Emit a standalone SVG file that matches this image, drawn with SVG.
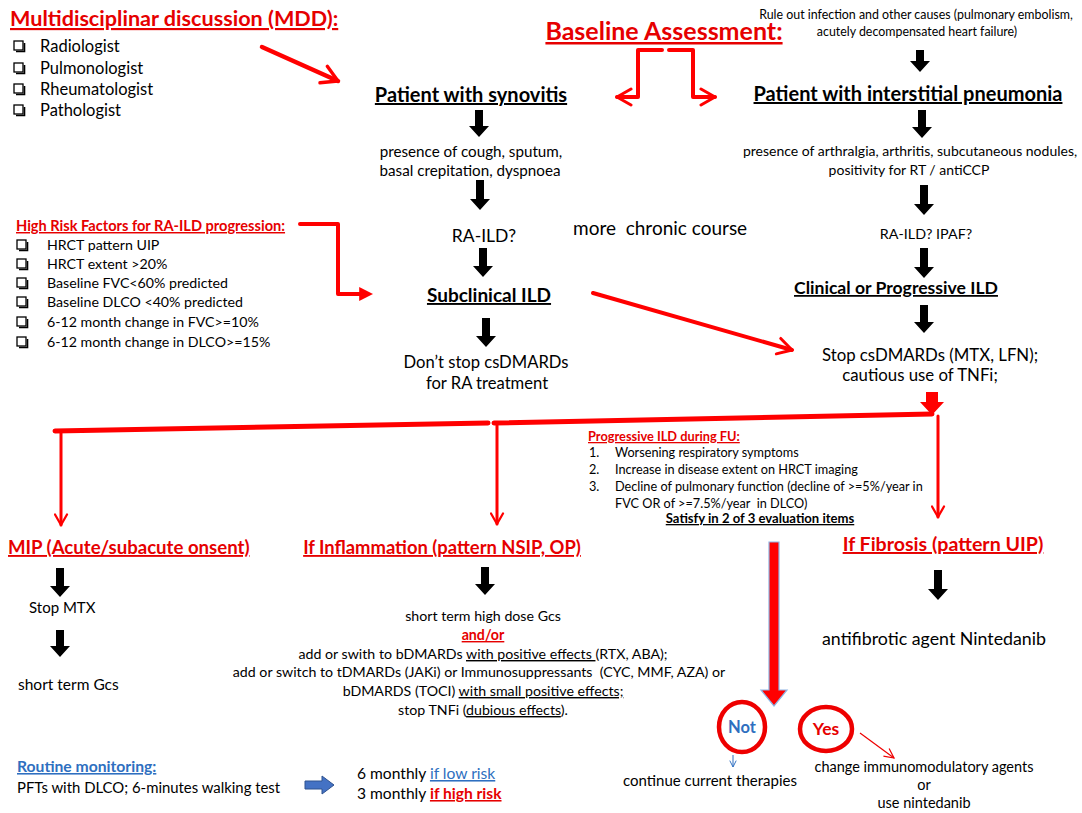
<svg xmlns="http://www.w3.org/2000/svg" width="1082" height="813" viewBox="0 0 1082 813">
<style>
text{font-family:Lato,"Liberation Sans",sans-serif;fill:#000}
.b{font-weight:bold}
.r{fill:#e60000}
.bl{fill:#2e6fc0}
.u{text-decoration:underline}
.c{text-anchor:middle}
.blk{fill:#000}
.ra{stroke:#f00;fill:none;stroke-linecap:round;stroke-linejoin:round}
.cb{fill:none;stroke:#000;stroke-width:1.3}
</style>
<defs>
<marker id="vh" viewBox="0 0 10 10" refX="8.5" refY="5" markerWidth="5" markerHeight="5" markerUnits="strokeWidth" orient="auto">
<path d="M1.5,1 L8.5,5 L1.5,9" fill="none" stroke="#f00" stroke-width="1.5" stroke-linecap="round" stroke-linejoin="round"/>
</marker>
<marker id="vhs" viewBox="0 0 10 10" refX="9" refY="5" markerWidth="10" markerHeight="10" markerUnits="strokeWidth" orient="auto">
<path d="M1,1 L9,5 L1,9" fill="none" stroke="#e00" stroke-width="1"/>
</marker>
<marker id="vhb" viewBox="0 0 10 10" refX="9" refY="5" markerWidth="8" markerHeight="8" markerUnits="strokeWidth" orient="auto">
<path d="M1,1 L9,5 L1,9" fill="none" stroke="#2e6fc0" stroke-width="1.2"/>
</marker>
<marker id="fh" viewBox="0 0 10 10" refX="2" refY="5" markerWidth="3.5" markerHeight="3.5" markerUnits="strokeWidth" orient="auto">
<path d="M0,0 L10,5 L0,10 Z" fill="#f00"/>
</marker>
<g id="box"><rect x="0" y="0" width="9" height="9" class="cb"/><path d="M2,10.5 H10.5 V2" fill="none" stroke="#000" stroke-width="1.6"/></g>
</defs>
<rect width="1082" height="813" fill="#fff"/>

<g id="mdd">
<text x="10" y="26" class="b r u" font-size="21.6">Multidisciplinar discussion (MDD):</text>
<use href="#box" x="14" y="41"/><text x="40" y="52" font-size="16.5">Radiologist</text>
<use href="#box" x="14" y="63"/><text x="40" y="74" font-size="16.5">Pulmonologist</text>
<use href="#box" x="14" y="84"/><text x="40" y="95" font-size="16.5">Rheumatologist</text>
<use href="#box" x="14" y="105"/><text x="40" y="116" font-size="16.5">Pathologist</text>
</g>

<g id="baseline">
<text x="664" y="40" class="b r u c" font-size="25">Baseline Assessment:</text>
</g>

<g id="ruleout">
<text x="916" y="19" class="c" font-size="12.4">Rule out infection and other causes (pulmonary embolism,</text>
<text x="917" y="36" class="c" font-size="12.4">acutely decompensated heart failure)</text>
</g>

<g id="synovitis">
<text x="471" y="102" class="b u c" font-size="20">Patient with synovitis</text>
</g>
<g id="cough">
<text x="471" y="157" class="c" font-size="15.2">presence of cough, sputum,</text>
<text x="470" y="176" class="c" font-size="15.2">basal crepitation, dyspnoea</text>
</g>
<g id="raild"><text x="484" y="242" class="c" font-size="17.5">RA-ILD?</text></g>
<g id="subclinical"><text x="489" y="302" class="b u c" font-size="19">Subclinical ILD</text></g>
<g id="dontstop">
<text x="486" y="368" class="c" font-size="16.6">Don’t stop csDMARDs</text>
<text x="487" y="389" class="c" font-size="16.6">for RA treatment</text>
</g>
<g id="chronic"><text x="573" y="235" font-size="19" xml:space="preserve">more  chronic course</text></g>

<g id="interstitial"><text x="908" y="101" class="b u c" font-size="20">Patient with interstitial pneumonia</text></g>
<g id="arthralgia">
<text x="910" y="156" class="c" font-size="14">presence of arthralgia, arthritis, subcutaneous nodules,</text>
<text x="909" y="175" class="c" font-size="14">positivity for RT / antiCCP</text>
</g>
<g id="ipaf"><text x="926" y="239" class="c" font-size="14.3">RA-ILD? IPAF?</text></g>
<g id="clinical"><text x="896" y="294" class="b u c" font-size="17.6">Clinical or Progressive ILD</text></g>
<g id="stopcs">
<text x="930" y="361" class="c" font-size="16.8">Stop csDMARDs (MTX, LFN);</text>
<text x="920" y="381" class="c" font-size="16.8">cautious use of TNFi;</text>
</g>

<g id="risk">
<text x="16" y="231" class="b r u" font-size="14.6">High Risk Factors for RA-ILD progression:</text>
<use href="#box" x="17" y="240"/><text x="47" y="250" font-size="14.2">HRCT pattern UIP</text>
<use href="#box" x="17" y="259"/><text x="47" y="269" font-size="14.2">HRCT extent &gt;20%</text>
<use href="#box" x="17" y="278"/><text x="47" y="288" font-size="14.2">Baseline FVC&lt;60% predicted</text>
<use href="#box" x="17" y="297"/><text x="47" y="307" font-size="14.2">Baseline DLCO &lt;40% predicted</text>
<use href="#box" x="17" y="317"/><text x="47" y="327" font-size="14.2">6-12 month change in FVC&gt;=10%</text>
<use href="#box" x="17" y="337"/><text x="47" y="347" font-size="14.2">6-12 month change in DLCO&gt;=15%</text>
</g>

<g id="progressive">
<text x="588" y="441" class="b r u" font-size="12.8">Progressive ILD during FU:</text>
<text x="589" y="457" font-size="12.7">1.</text><text x="615" y="457" font-size="12.7">Worsening respiratory symptoms</text>
<text x="589" y="474" font-size="12.7">2.</text><text x="615" y="474" font-size="12.7">Increase in disease extent on HRCT imaging</text>
<text x="589" y="491" font-size="12.7">3.</text><text x="615" y="491" font-size="12.7">Decline of pulmonary function (decline of &gt;=5%/year in</text>
<text x="615" y="508" font-size="12.7" xml:space="preserve">FVC OR of &gt;=7.5%/year  in DLCO)</text>
<text x="760" y="523" class="b u c" font-size="13.1">Satisfy in 2 of 3 evaluation items</text>
</g>

<g id="mip">
<text x="8" y="554" class="b r u" font-size="18.6">MIP (Acute/subacute onsent)</text>
</g>
<g id="stopmtx"><text x="29" y="613" font-size="15">Stop MTX</text></g>
<g id="gcs"><text x="18" y="690" font-size="15.5">short term Gcs</text></g>

<g id="inflammation">
<text x="442" y="554" class="b r u c" font-size="18.4">If Inflammation (pattern NSIP, OP)</text>
</g>
<g id="inflamtx">
<text x="483" y="621" class="c" font-size="14.2">short term high dose Gcs</text>
<text x="483" y="640" class="c b r u" font-size="14.2">and/or</text>
<text x="483" y="659" class="c" font-size="14.2">add or swith to bDMARDs <tspan class="u">with positive effects </tspan>(RTX, ABA);</text>
<text x="479" y="677" class="c" font-size="14.2" xml:space="preserve">add or switch to tDMARDs (JAKi) or Immunosuppressants  (CYC, MMF, AZA) or</text>
<text x="483" y="696" class="c" font-size="14.2">bDMARDS (TOCI) <tspan class="u">with small positive effects;</tspan></text>
<text x="483" y="715" class="c" font-size="14.2">stop TNFi (<tspan class="u">dubious effects</tspan>).</text>
</g>

<g id="fibrosis">
<text x="943" y="551" class="b r u c" font-size="19.6">If Fibrosis (pattern UIP)</text>
</g>
<g id="nintedanib"><text x="934" y="645" class="c" font-size="17.8">antifibrotic agent Nintedanib</text></g>

<g id="not">
<ellipse cx="742" cy="727" rx="23" ry="25" fill="#fff" stroke="#e00" stroke-width="4.5"/>
<text x="742" y="733" class="c b bl" font-size="16.5">Not</text>
</g>
<g id="yes">
<ellipse cx="826" cy="729" rx="26" ry="22" fill="#fff" stroke="#e00" stroke-width="4.5"/>
<text x="826" y="735" class="c b r" font-size="17.5">Yes</text>
</g>
<g id="continue"><text x="710" y="786" class="c" font-size="15">continue current therapies</text></g>
<g id="change">
<text x="924" y="772" class="c" font-size="14.5">change immunomodulatory agents</text>
<text x="924" y="790" class="c" font-size="14.5">or</text>
<text x="924" y="808" class="c" font-size="14.5">use nintedanib</text>
</g>

<g id="routine">
<text x="17" y="772" class="b bl u" font-size="15.7">Routine monitoring:</text>
<text x="17" y="793" font-size="14.9">PFTs with DLCO; 6-minutes walking test</text>
</g>
<g id="monthly">
<text x="357" y="779" font-size="15.6">6 monthly <tspan class="bl u">if low risk</tspan></text>
<text x="357" y="799" font-size="15.6">3 monthly <tspan class="r b u">if high risk</tspan></text>
</g>

<g id="connectors">
<path class="blk" d="M475,110 H483 V126 H489 L479,137 L469,126 H475 Z"/>
<path class="blk" d="M476,180 H484 V199 H490 L480,210 L470,199 H476 Z"/>
<path class="blk" d="M479,248 H487 V266 H493 L483,277 L473,266 H479 Z"/>
<path class="blk" d="M482,318 H490 V336 H496 L486,347 L476,336 H482 Z"/>
<path class="blk" d="M916,50 H924 V61 H930 L920,72 L910,61 H916 Z"/>
<path class="blk" d="M918,110 H926 V127 H932 L922,138 L912,127 H918 Z"/>
<path class="blk" d="M920,185 H928 V204 H934 L924,215 L914,204 H920 Z"/>
<path class="blk" d="M920,248 H928 V267 H934 L924,278 L914,267 H920 Z"/>
<path class="blk" d="M920,305 H928 V322 H934 L924,333 L914,322 H920 Z"/>
<path class="blk" d="M56,568 H64 V586 H70 L60,597 L50,586 H56 Z"/>
<path class="blk" d="M56,630 H64 V646 H70 L60,657 L50,646 H56 Z"/>
<path class="blk" d="M481,567 H489 V584 H495 L485,595 L475,584 H481 Z"/>
<path class="blk" d="M934,570 H942 V589 H948 L938,600 L928,589 H934 Z"/>

<line class="ra" x1="262" y1="47" x2="338" y2="81" stroke-width="4.5" marker-end="url(#vh)"/>
<polyline class="ra" points="662,50 638,50 638,97 617,97" stroke-width="4" marker-end="url(#vh)"/>
<polyline class="ra" points="669,50 693,50 693,97 715,97" stroke-width="4" marker-end="url(#vh)"/>
<polyline class="ra" points="300,224 338,224 338,294 362,294" stroke-width="4" stroke-linecap="butt" stroke-linejoin="miter" marker-end="url(#fh)"/>
<line class="ra" x1="593" y1="293" x2="792" y2="350" stroke-width="4" marker-end="url(#vh)"/>

<path d="M926,392 H938 V402 H944 L932,415 L920,402 H926 Z" fill="#f00"/>
<line class="ra" x1="55" y1="431" x2="488" y2="423" stroke-width="5" stroke-linecap="butt"/>
<line class="ra" x1="494" y1="423" x2="932" y2="414" stroke-width="5" stroke-linecap="butt"/>
<line class="ra" x1="61" y1="433" x2="61" y2="525" stroke-width="3" marker-end="url(#vh)"/>
<line class="ra" x1="497" y1="425" x2="497" y2="524" stroke-width="3" marker-end="url(#vh)"/>
<line class="ra" x1="938" y1="416" x2="938" y2="517" stroke-width="3" marker-end="url(#vh)"/>

<path d="M769,542 H779 V690 H787 L774,706 L761,690 H769 Z" fill="#f00" stroke="#8fb4e3" stroke-width="1.2"/>
<line x1="860" y1="733" x2="894" y2="758" stroke="#e00" stroke-width="1.2" marker-end="url(#vhs)"/>
<line x1="733" y1="755" x2="733" y2="767" stroke="#2e6fc0" stroke-width="1" marker-end="url(#vhb)"/>
<path d="M305,781 H322 V776 L334,785 L322,794 V789 H305 Z" fill="#4472c4" stroke="#2f528f" stroke-width="1"/>
</g>
</svg>
